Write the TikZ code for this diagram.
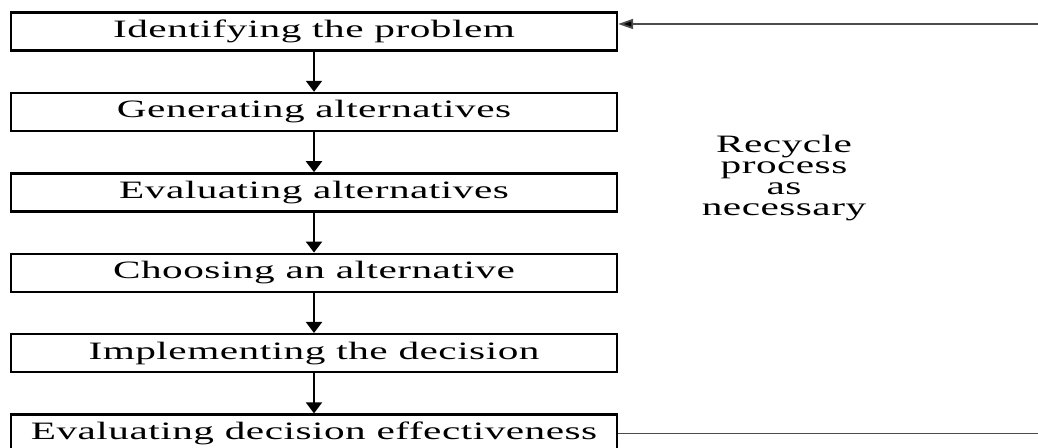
\documentclass[tikz,border=0pt]{standalone}
\usepackage{fontspec}
\newfontfamily\stepfont[FakeStretch=1.65,LetterSpace=2]{Liberation Serif}
\usetikzlibrary{positioning,arrows.meta}

\begin{document}
\begin{tikzpicture}[
        stepbox/.style={draw, line width=1.2pt, minimum width=303pt, minimum height=19pt,
            inner sep=0pt, font=\stepfont\fontsize{12.5}{11}\selectfont},
        down/.style={line width=1pt, -{Triangle[length=5.5pt,width=8pt]}},
        back/.style={line width=0.9pt, draw=black!70}
    ]
    \clip (0,0) rectangle (519pt,224pt);

    % the six steps
    \node[stepbox] (ident) at (157pt,208.2pt) {Identifying the problem};
    \node[stepbox, below=20pt of ident] (gen) {Generating alternatives};
    \node[stepbox, below=20pt of gen] (evalalt) {Evaluating alternatives};
    \node[stepbox, below=20pt of evalalt] (choose) {Choosing an alternative};
    \node[stepbox, below=20pt of choose] (impl) {Implementing the decision};
    \node[stepbox, below=20pt of impl] (evaleff) {Evaluating decision effectiveness};

    \foreach \a/\b in {ident/gen, gen/evalalt, evalalt/choose, choose/impl, impl/evaleff}
        {
            \draw[down] (\a) -- (\b);
        }

    % feedback loop, runs off the right edge
    \coordinate (rightbot) at (evaleff.east -| 519pt,0);
    \coordinate (righttop) at (519pt,212pt);
    \draw[back] (evaleff) -- (rightbot);
    \draw[back, -{Triangle[length=7.5pt,width=5pt,fill=black]}] (righttop) -- (righttop -| ident.east);

    \node[font=\stepfont\fontsize{12.5}{10.5}\selectfont, align=center] (recycle) at (392pt,135pt)
        {Recycle\\process\\as\\necessary};
\end{tikzpicture}
\end{document}
